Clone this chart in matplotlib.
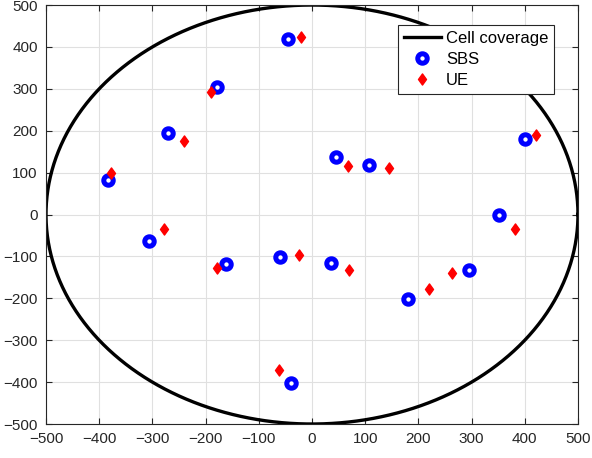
import numpy as np
import matplotlib
matplotlib.use("Agg")
import matplotlib.pyplot as plt
from matplotlib.path import Path

plt.rcParams['font.family'] = ['Liberation Sans', 'DejaVu Sans']

radius = 500
sbs_x = [-45, -178, -270, -383, 45, 108, 400, 352, 295, 180, 35, -60, -162, -307, -40]
sbs_y = [418, 305, 195, 82, 137, 118, 180, 0, -132, -202, -115, -102, -118, -63, -402]
ue_x = [-20, -190, -240, -378, 68, 145, 422, 382, 263, 220, 70, -25, -178, -278, -62]
ue_y = [423, 293, 175, 98, 115, 110, 190, -35, -140, -178, -133, -97, -128, -35, -370]
ticks = [-500, -400, -300, -200, -100, 0, 100, 200, 300, 400, 500]

diamond = Path([(0, 1), (0.72, 0), (0, -1), (-0.72, 0), (0, 1)],
               [Path.MOVETO, Path.LINETO, Path.LINETO, Path.LINETO, Path.CLOSEPOLY])

fig = plt.figure(figsize=(5.92, 4.58), dpi=100)
ax = fig.add_axes([0.0777, 0.0742, 0.8986, 0.9148])

theta = np.linspace(0, 2 * np.pi, 400)
ax.plot(radius * np.cos(theta), radius * np.sin(theta), color='black', lw=2.4, label='Cell coverage')
ax.plot(sbs_x, sbs_y, 'o', ls='none', mfc='white', mec='blue', mew=3.6, ms=6.8, label='SBS')
ax.plot(ue_x, ue_y, marker=diamond, ls='none', color='red', ms=8, label='UE')

ax.set_xlim(-500, 500)
ax.set_ylim(-500, 500)
ax.set_xticks(ticks)
ax.set_yticks(ticks)
ax.grid(True, color='#e0e0e0', lw=0.8)
ax.set_axisbelow(True)
ax.tick_params(direction='in', labelsize=11, colors='#262626', top=True, right=True, length=4, pad=6)
for s in ax.spines.values():
    s.set_color('#262626')
    s.set_linewidth(0.8)

leg = ax.legend(loc='upper right', bbox_to_anchor=(0.955, 0.953), fancybox=False, edgecolor='#262626',
                fontsize=12, handlelength=2.2, borderpad=0.35, labelspacing=0.38, handletextpad=0.3,
                borderaxespad=0, framealpha=1)
leg.get_frame().set_linewidth(0.8)

fig.savefig('out.png', dpi=100)
